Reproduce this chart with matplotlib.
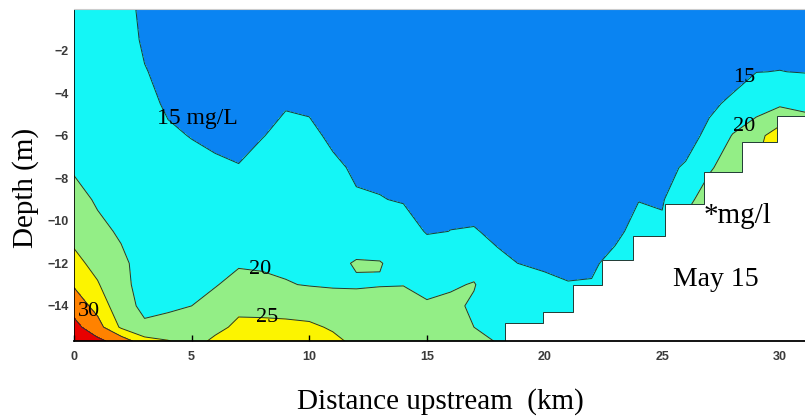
import numpy as np
import matplotlib.pyplot as plt

# 관측 격자 (상류 방향 거리, 수심)
distance_km = [0, 1, 2, 3, 4, 5, 6, 7, 8, 9, 10, 11, 12, 13, 14, 15,
               16, 17, 18, 19, 20, 21, 22, 23, 24, 25, 26, 27, 28, 29, 30, 31.5]
depth_m = [0, -1.5, -3, -4.5, -6, -7.5, -9, -10.5, -12, -13, -14, -15, -15.65]

# 정점별 연직 농도 (mg/L), 표층 -> 저층
conc_profiles = [
    [17.5, 18.0, 18.4, 18.9, 19.2, 19.5, 21.5, 23.4, 26.4, 29.5, 33.1, 36.5, 38.5],   # 0
    [17.0, 17.5, 17.9, 18.4, 18.9, 19.1, 19.5, 21.0, 23.5, 25.4, 28.2, 32.0, 36.1],   # 1
    [16.8, 17.0, 17.3, 17.6, 18.1, 18.6, 19.0, 19.5, 20.8, 21.0, 21.8, 24.3, 33.0],   # 2
    [13.9, 14.4, 15.2, 15.8, 16.4, 17.0, 17.5, 18.0, 18.5, 18.7, 19.0, 20.7, 26.8],   # 3
    [12.5, 13.2, 13.9, 14.6, 15.4, 16.2, 17.0, 17.8, 18.5, 18.9, 19.3, 21.5, 25.2],   # 4
    [12.0, 12.7, 13.4, 14.15, 14.9, 15.8, 16.8, 17.7, 18.7, 19.3, 20.0, 21.5, 23.0],  # 5
    [11.5, 12.3, 13.0, 13.8, 14.5, 15.4, 16.6, 17.8, 19.0, 19.7, 21.9, 23.6, 26.0],   # 6
    [11.0, 11.8, 12.6, 13.45, 14.3, 15.1, 16.7, 18.2, 19.5, 21.6, 23.8, 26.1, 27.5],  # 7
    [11.5, 12.35, 13.2, 14.05, 14.9, 16.0, 17.2, 18.4, 19.4, 21.0, 23.65, 26.1, 27.5],  # 8
    [12.5, 13.25, 14.0, 14.8, 15.7, 16.6, 17.5, 18.4, 19.4, 20.2, 23.4, 26.0, 27.3],  # 9
    [12.3, 13.1, 13.9, 14.65, 15.5, 16.5, 17.4, 18.4, 19.3, 19.8, 22.8, 25.8, 27.0],  # 10
    [11.8, 12.5, 13.3, 14.0, 14.6, 15.4, 16.8, 17.95, 19.1, 19.6, 22.0, 24.5, 26.0],  # 11
    [11.5, 12.1, 12.75, 13.4, 14.0, 14.7, 15.2, 17.8, 20.3, 19.6, 21.6, 23.0, 24.0],  # 12
    [11.3, 11.9, 12.55, 13.2, 13.8, 14.45, 15.1, 17.5, 20.2, 19.7, 22.7, 23.5, 24.0],  # 13
    [11.5, 12.05, 12.6, 13.2, 13.75, 14.3, 14.8, 16.3, 18.6, 19.9, 21.5, 22.5, 23.0],  # 14
    [11.8, 12.25, 12.7, 13.15, 13.6, 14.0, 14.4, 14.8, 16.9, 18.8, 20.5, 21.5, 22.0],  # 15
    [12.0, 12.4, 12.85, 13.3, 13.7, 14.15, 14.6, 15.02, 17.6, 19.4, 21.1, 21.0, 21.5],  # 16
    [12.3, 12.7, 13.1, 13.5, 13.9, 14.2, 14.45, 15.1, 18.0, 20.3, 19.3, 20.0, 21.0],  # 17
    [12.5, 12.85, 13.2, 13.5, 13.85, 14.2, 14.45, 14.7, 15.3, 16.5, 18.5, 19.4, 19.8],  # 18
    [12.8, 13.1, 13.35, 13.6, 13.9, 14.15, 14.45, 14.7, 14.95, 16.0, 17.0, 18.0, 18.5],  # 19
    [13.0, 13.25, 13.5, 13.7, 13.95, 14.2, 14.4, 14.6, 14.8, 15.3, 16.5, 17.5, 18.0],  # 20
    [13.2, 13.4, 13.6, 13.8, 14.0, 14.2, 14.4, 14.55, 14.75, 15.05, 16.5, 17.5, 18.0],  # 21
    [13.3, 13.5, 13.7, 13.85, 14.0, 14.2, 14.4, 14.55, 14.75, 15.1, 16.5, 17.5, 18.0],  # 22
    [13.4, 13.6, 13.8, 13.95, 14.1, 14.3, 14.45, 14.6, 15.5, 16.5, 17.5, 18.0, 18.5],  # 23
    [13.5, 13.7, 13.85, 14.0, 14.2, 14.4, 14.95, 15.6, 16.5, 17.5, 18.0, 18.5, 19.0],  # 24
    [13.6, 13.8, 13.95, 14.1, 14.3, 14.5, 14.6, 15.8, 17.0, 18.0, 18.5, 19.0, 19.5],  # 25
    [13.7, 13.85, 14.0, 14.1, 14.2, 15.2, 18.8, 21.5, 22.0, 22.5, 23.0, 23.0, 23.0],  # 26
    [13.8, 14.0, 14.2, 14.6, 15.5, 19.5, 22.0, 24.0, 24.0, 24.0, 24.0, 24.0, 24.0],   # 27
    [13.6, 13.9, 14.2, 15.4, 20.3, 22.0, 24.0, 24.0, 24.0, 24.0, 24.0, 24.0, 24.0],   # 28
    [13.4, 14.0, 14.95, 17.5, 23.5, 25.0, 25.0, 25.0, 25.0, 25.0, 25.0, 25.0, 25.0],  # 29
    [13.3, 14.0, 15.05, 19.2, 27.5, 27.0, 27.0, 27.0, 27.0, 27.0, 27.0, 27.0, 27.0],  # 30
    [13.2, 13.9, 14.8, 18.0, 24.0, 25.0, 25.0, 25.0, 25.0, 25.0, 25.0, 25.0, 25.0],   # 31.5
]

# 하상 계단 (x 시작점, 바닥 수심)
bed_x = [18.32, 19.93, 21.2, 22.44, 23.76, 25.1, 26.77, 28.4, 29.88, 31.5]
bed_depth = [-14.8, -14.28, -13.0, -11.85, -10.72, -9.22, -7.72, -6.31, -5.1, -5.1]

levels = [0, 15, 20, 25, 30, 35, 60]
fill_colors = ['#0a84f2', '#14f6f6', '#93ee86', '#fcf400', '#ff8200', '#e80000']

serif = ['Liberation Serif', 'DejaVu Serif']

fig = plt.figure(figsize=(8.05, 4.18), dpi=100)
ax = fig.add_axes([74 / 805, 1 - 341 / 418, 731 / 805, 332 / 418])

Z = np.array(conc_profiles).T
ax.contourf(distance_km, depth_m, Z, levels=levels, colors=fill_colors)
ax.contour(distance_km, depth_m, Z, levels=levels[1:-1], colors='#1d3a33', linewidths=0.7)

# 하상 아래는 흰색으로 가림
ax.fill_between(bed_x, bed_depth, -16, step='post', color='white', lw=0, zorder=3)
ax.step([bed_x[0]] + bed_x, [-15.65] + bed_depth, where='post',
        color='#1d3a33', lw=0.7, zorder=3)

ax.set_xlim(0, 31.07)
ax.set_ylim(-15.65, -0.05)
ax.set_xticks([0, 5, 10, 15, 20, 25, 30])
ax.set_yticks([-14, -12, -10, -8, -6, -4, -2])
ax.tick_params(axis='x', direction='in', length=4, width=1, pad=7,
               labelsize=9, labelcolor='#3a3a3a')
ax.tick_params(axis='y', length=0, pad=4, labelsize=9, labelcolor='#3a3a3a')
for lab in ax.get_xticklabels() + ax.get_yticklabels():
    lab.set_family(['Liberation Sans', 'DejaVu Sans'])
    lab.set_fontweight('bold')

ax.spines['right'].set_visible(False)
ax.spines['top'].set_color('#cccccc')
ax.spines['top'].set_linewidth(0.8)
ax.spines['left'].set_linewidth(0.6)
ax.spines['bottom'].set_linewidth(1.3)
for s in ax.spines.values():
    s.set_zorder(4)

# 등농도선 라벨
ax.text(3.53, -5.47, '15 mg/L', family=serif, fontsize=17, zorder=5)
ax.text(7.45, -12.52, '20', family=serif, fontsize=16, zorder=5)
ax.text(7.73, -14.74, '25', family=serif, fontsize=16, zorder=5)
ax.text(0.18, -14.47, '30', family=serif, fontsize=16, zorder=5)
ax.text(28.02, -3.5, '15', family=serif, fontsize=16, zorder=5)
ax.text(27.99, -5.8, '20', family=serif, fontsize=16, zorder=5)
ax.text(26.77, -10.11, '*mg/l', family=serif, fontsize=21, zorder=5)
ax.text(25.47, -13.07, 'May 15', family=serif, fontsize=20, zorder=5)

fig.text(26 / 805, 1 - 188 / 418, 'Depth (m)', rotation=90, ha='center', va='center',
         family=serif, fontsize=21)
fig.text(440 / 805, 9 / 418, 'Distance upstream  (km)', ha='center', va='baseline',
         family=serif, fontsize=21)

fig.savefig('out.png', dpi=100)
